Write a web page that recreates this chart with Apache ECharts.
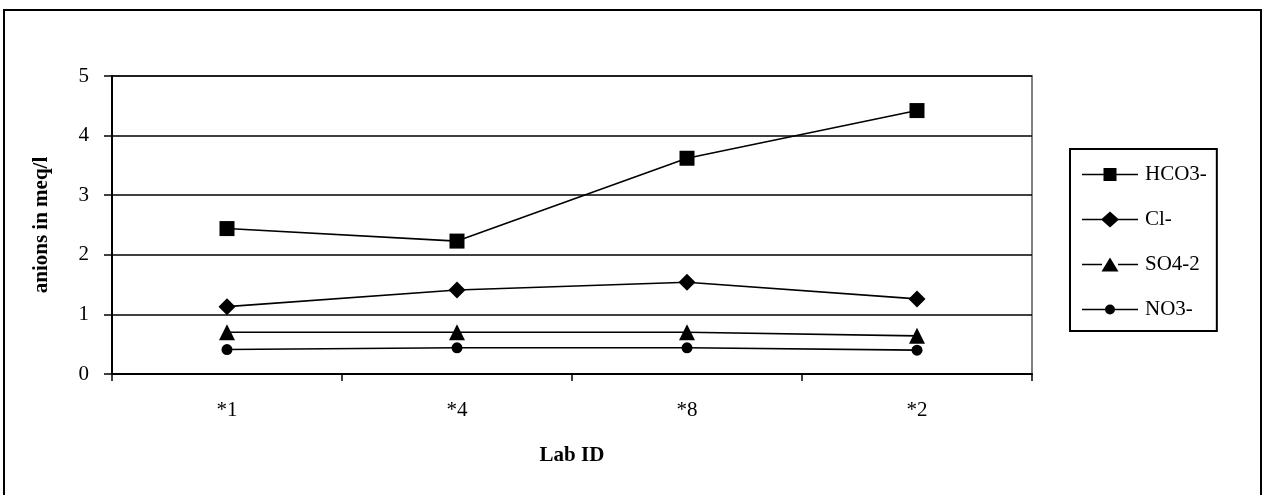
<!DOCTYPE html>
<html>
<head>
<meta charset="utf-8">
<script src="https://cdn.jsdelivr.net/npm/echarts@6/dist/echarts.min.js"></script>
<style>
  html, body { margin: 0; padding: 0; background: #fff; }
  #chart { width: 1266px; height: 495px; }
</style>
</head>
<body>
<div id="chart"></div>
<script>
// Lab IDs along the x axis
const labIds = ['*1', '*4', '*8', '*2'];
// Anion concentrations (meq/l) per lab
const hco3 = [2.44, 2.23, 3.62, 4.42];
const cl = [1.13, 1.41, 1.54, 1.26];
const so4 = [0.70, 0.70, 0.70, 0.64];
const no3 = [0.41, 0.44, 0.44, 0.40];
const yTicks = [0, 1, 2, 3, 4, 5];
const seriesNames = ['HCO3-', 'Cl-', 'SO4-2', 'NO3-'];

const serif = 'Liberation Serif, Times New Roman, serif';

// Legend keys: a short line with the marker in the middle, in a 56x18 box.
// The two degenerate sub-paths pin the box corners so every key scales alike.
const keyFrame = 'M0 0 L0 0 Z M56 18 L56 18 Z ';
function keyLine(gapL, gapR) {
  return 'M0 8.2 L' + gapL + ' 8.2 L' + gapL + ' 9.8 L0 9.8 Z ' +
         'M' + gapR + ' 8.2 L56 8.2 L56 9.8 L' + gapR + ' 9.8 Z ';
}
const legendIcons = {
  'HCO3-': 'path://' + keyFrame + keyLine(21.5, 34.5) + 'M21.5 2.5 L34.5 2.5 L34.5 15.5 L21.5 15.5 Z',
  'Cl-': 'path://' + keyFrame + keyLine(20, 36) + 'M28 1 L37 9 L28 17 L19 9 Z',
  'SO4-2': 'path://' + keyFrame + keyLine(20, 36) + 'M28 2 L36.5 16 L19.5 16 Z',
  'NO3-': 'path://' + keyFrame + keyLine(23, 33) + 'M23 9 A5 5 0 1 1 33 9 A5 5 0 1 1 23 9 Z'
};

function lineSeries(name, data, symbol, size) {
  return {
    name: name,
    type: 'line',
    data: data,
    symbol: symbol,
    symbolSize: size,
    lineStyle: { color: '#000', width: 1.6 },
    itemStyle: { color: '#000' },
    emphasis: { disabled: true },
    animation: false
  };
}

const chart = echarts.init(document.getElementById('chart'), null, { renderer: 'canvas' });
chart.setOption({
  animation: false,
  backgroundColor: '#fff',
  grid: { left: 112, right: 234, top: 76, bottom: 121, show: true, borderColor: '#808080', borderWidth: 2 },
  xAxis: {
    type: 'category',
    data: labIds,
    boundaryGap: true,
    name: 'Lab ID',
    nameLocation: 'middle',
    nameGap: 71,
    nameTextStyle: { fontFamily: serif, fontWeight: 'bold', fontSize: 21, color: '#000' },
    axisLine: { lineStyle: { color: '#000', width: 2 } },
    axisTick: { show: true, length: 7, lineStyle: { color: '#000', width: 1.5 } },
    axisLabel: { fontFamily: serif, fontSize: 21, color: '#000', margin: 26 },
    splitLine: { show: false }
  },
  yAxis: {
    type: 'value',
    min: yTicks[0],
    max: yTicks[yTicks.length - 1],
    interval: 1,
    name: 'anions in meq/l',
    nameLocation: 'middle',
    nameGap: 60,
    nameTextStyle: { fontFamily: serif, fontWeight: 'bold', fontSize: 21, color: '#000' },
    axisLine: { show: true, lineStyle: { color: '#000', width: 2 } },
    axisTick: { show: true, length: 8, lineStyle: { color: '#000', width: 1.5 } },
    axisLabel: { fontFamily: serif, fontSize: 21, color: '#000', margin: 23 },
    splitLine: { show: true, lineStyle: { color: '#000', width: 1.5 } }
  },
  legend: {
    orient: 'vertical',
    left: 1070,
    top: 149,
    padding: [15, 10, 11, 12],
    itemGap: 24,
    itemWidth: 56,
    itemHeight: 18,
    borderColor: '#000',
    borderWidth: 2,
    borderRadius: 0,
    textStyle: { fontFamily: serif, fontSize: 21, lineHeight: 18, color: '#000', padding: [0, 0, 0, 2] },
    data: seriesNames.map(function (n) { return { name: n, icon: legendIcons[n] }; })
  },
  graphic: [
    {
      type: 'rect',
      shape: { x: 4, y: 10, width: 1257, height: 500 },
      style: { fill: 'none', stroke: '#000', lineWidth: 2 },
      silent: true
    }
  ],
  series: [
    lineSeries(seriesNames[0], hco3, 'rect', 15),
    lineSeries(seriesNames[1], cl, 'diamond', 17),
    lineSeries(seriesNames[2], so4, 'triangle', 16),
    lineSeries(seriesNames[3], no3, 'circle', 11)
  ]
});
</script>
</body>
</html>
